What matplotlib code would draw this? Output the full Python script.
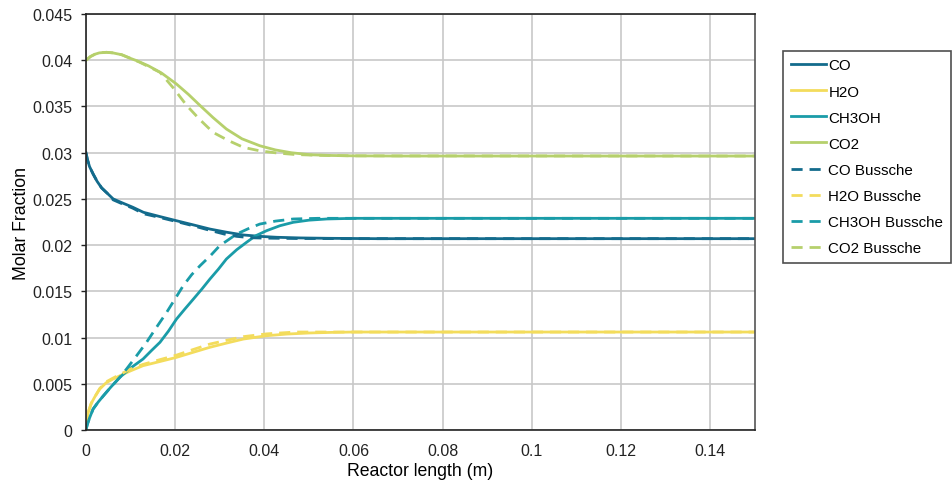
import numpy as np
import matplotlib.pyplot as plt

plt.rcParams['font.family'] = ['Liberation Sans', 'DejaVu Sans']

# Reactor profiles: model (solid) vs. Bussche kinetics (dashed)
x_co2 = [0, 0.001, 0.002, 0.003, 0.0046, 0.006, 0.008, 0.010, 0.0114, 0.014, 0.017, 0.0203,
         0.023, 0.0256, 0.0285, 0.0315, 0.035, 0.039, 0.0425, 0.046, 0.0502, 0.055, 0.06, 0.07, 0.15]
co2 = [0.0400, 0.0404, 0.04065, 0.0408, 0.04086, 0.0408, 0.0406, 0.0402, 0.03995, 0.0394, 0.0386, 0.03743,
       0.0363, 0.0351, 0.0338, 0.03256, 0.0315, 0.03075, 0.0303, 0.0300, 0.02978, 0.0297, 0.02966, 0.02964, 0.02964]
x_co2_b = [0, 0.001, 0.002, 0.003, 0.0046, 0.006, 0.008, 0.010, 0.012, 0.0145, 0.0166, 0.0196,
           0.0226, 0.0255, 0.0285, 0.032, 0.0353, 0.039, 0.0428, 0.047, 0.052, 0.06, 0.15]
co2_b = [0.0400, 0.0404, 0.04065, 0.0408, 0.04086, 0.0408, 0.0406, 0.0402, 0.0398, 0.0392, 0.0387, 0.0370,
         0.0351, 0.0336, 0.0322, 0.0313, 0.03058, 0.0302, 0.02997, 0.0298, 0.02972, 0.02966, 0.02964]

x_co = [0, 0.0003, 0.0008, 0.0016, 0.0025, 0.0035, 0.0048, 0.0061, 0.008, 0.0105, 0.0129, 0.0165,
        0.0203, 0.024, 0.0278, 0.0315, 0.0353, 0.039, 0.0428, 0.048, 0.054, 0.065, 0.15]
co = [0.0300, 0.0293, 0.0285, 0.0277, 0.0269, 0.0262, 0.0256, 0.0250, 0.0246, 0.0241, 0.02355, 0.0231,
      0.02264, 0.0222, 0.02174, 0.0214, 0.0211, 0.02095, 0.02085, 0.02078, 0.02074, 0.0207, 0.0207]
x_co_b = [0, 0.0003, 0.0008, 0.0016, 0.0025, 0.0035, 0.0048, 0.0061, 0.008, 0.0105, 0.0129, 0.0165,
          0.0203, 0.024, 0.0278, 0.031, 0.0338, 0.037, 0.040, 0.047, 0.06, 0.15]
co_b = [0.0300, 0.0293, 0.0285, 0.0277, 0.0269, 0.0262, 0.0256, 0.0249, 0.0245, 0.0240, 0.0234, 0.0230,
        0.02255, 0.0221, 0.0216, 0.0212, 0.02095, 0.0208, 0.02076, 0.02072, 0.0207, 0.0207]

x_meoh = [0, 0.0003, 0.0008, 0.0016, 0.0027, 0.0039, 0.0055, 0.0076, 0.010, 0.0128, 0.0147, 0.0166,
          0.0185, 0.0203, 0.0222, 0.0241, 0.026, 0.0278, 0.0297, 0.0315, 0.0338, 0.036, 0.038, 0.0405,
          0.0435, 0.0465, 0.050, 0.054, 0.06, 0.07, 0.15]
meoh = [0, 0.0006, 0.0013, 0.00227, 0.0030, 0.0037, 0.0046, 0.0057, 0.0067, 0.00768, 0.0086, 0.00949,
        0.0107, 0.0120, 0.0131, 0.01417, 0.01525, 0.01633, 0.0174, 0.0185, 0.0195, 0.0203, 0.0210, 0.02156,
        0.0221, 0.02247, 0.0227, 0.02283, 0.0229, 0.0229, 0.0229]
x_meoh_b = [0, 0.0003, 0.0008, 0.0016, 0.0027, 0.0039, 0.0055, 0.0076, 0.0091, 0.0113, 0.0136, 0.0158,
            0.0181, 0.020, 0.0218, 0.0237, 0.0256, 0.028, 0.030, 0.032, 0.0338, 0.0365, 0.039, 0.0425,
            0.0465, 0.052, 0.15]
meoh_b = [0, 0.0006, 0.0013, 0.00227, 0.0030, 0.0037, 0.0046, 0.0057, 0.0066, 0.0080, 0.0095, 0.0111,
          0.01273, 0.0142, 0.0156, 0.0168, 0.01778, 0.0189, 0.01994, 0.0206, 0.0212, 0.0218, 0.02228, 0.0226,
          0.02283, 0.0229, 0.0229]

x_h2o = [0, 0.0002, 0.0005, 0.0012, 0.002, 0.0031, 0.0045, 0.006, 0.0076, 0.010, 0.0128, 0.0165,
         0.0203, 0.024, 0.0278, 0.0315, 0.0353, 0.0405, 0.045, 0.0502, 0.055, 0.06, 0.15]
h2o = [0, 0.0010, 0.0019, 0.0029, 0.0036, 0.00444, 0.0051, 0.0055, 0.00587, 0.0064, 0.00696, 0.0074,
       0.00786, 0.0084, 0.00895, 0.0094, 0.00984, 0.0102, 0.01038, 0.0105, 0.01056, 0.0106, 0.0106]
x_h2o_b = [0, 0.0002, 0.0005, 0.0012, 0.002, 0.0031, 0.0045, 0.006, 0.0076, 0.010, 0.0128, 0.0165,
           0.0203, 0.024, 0.0278, 0.0315, 0.0353, 0.0405, 0.047, 0.055, 0.15]
h2o_b = [0, 0.0010, 0.0019, 0.0029, 0.0036, 0.0045, 0.0052, 0.0056, 0.0060, 0.0066, 0.0071, 0.0076,
         0.0081, 0.0087, 0.0093, 0.0097, 0.0101, 0.0104, 0.0106, 0.0106, 0.0106]

c_co = '#136B8C'
c_h2o = '#F3DC5C'
c_meoh = '#1A9CA8'
c_co2 = '#B6D06C'

fig = plt.figure(figsize=(9.52, 4.85), dpi=100)
ax = fig.add_axes([0.0903, 0.1113, 0.7025, 0.8577])

lw = 2.0
dash = (0, (4, 2.5))
ax.plot(x_co, co, color=c_co, lw=lw, label='CO')
ax.plot(x_h2o, h2o, color=c_h2o, lw=lw, label='H2O')
ax.plot(x_meoh, meoh, color=c_meoh, lw=lw, label='CH3OH')
ax.plot(x_co2, co2, color=c_co2, lw=lw, label='CO2')
ax.plot(x_co_b, co_b, color=c_co, lw=lw, ls=dash, label='CO Bussche')
ax.plot(x_h2o_b, h2o_b, color=c_h2o, lw=lw, ls=dash, label='H2O Bussche')
ax.plot(x_meoh_b, meoh_b, color=c_meoh, lw=lw, ls=dash, label='CH3OH Bussche')
ax.plot(x_co2_b, co2_b, color=c_co2, lw=lw, ls=dash, label='CO2 Bussche')

ax.set_xlim(0, 0.15)
ax.set_ylim(0, 0.045)
ax.set_xticks(np.arange(0, 0.15, 0.02))
ax.set_xticklabels(['0', '0.02', '0.04', '0.06', '0.08', '0.1', '0.12', '0.14'])
ax.set_yticks(np.arange(0, 0.0451, 0.005))
ax.set_yticklabels(['0', '0.005', '0.01', '0.015', '0.02', '0.025', '0.03', '0.035', '0.04', '0.045'])
ax.grid(True, color='#c8c8c8', lw=1.2)
ax.set_axisbelow(True)
ax.tick_params(axis='x', length=0, pad=9, labelsize=11.5, colors='#222222')
ax.tick_params(axis='y', length=3.6, width=1, pad=6, labelsize=11.5, colors='#222222')
for s in ['left', 'bottom', 'top']:
    ax.spines[s].set_color('#222222')
    ax.spines[s].set_linewidth(1.2)
ax.spines['right'].set_color('#555555')
ax.spines['right'].set_linewidth(1.2)

ax.set_xlabel('Reactor length (m)', fontsize=12.7, labelpad=3)
ax.set_ylabel('Molar Fraction', fontsize=12.7, labelpad=2)

leg = fig.legend(loc='upper left', bbox_to_anchor=(0.8225, 0.893), fontsize=10.9,
                 frameon=True, fancybox=False, edgecolor='#222222',
                 handlelength=2.35, handletextpad=0.15, labelspacing=0.8,
                 borderpad=0.5, borderaxespad=0)
leg.get_frame().set_linewidth(1.2)

fig.savefig('out.png', dpi=100)
